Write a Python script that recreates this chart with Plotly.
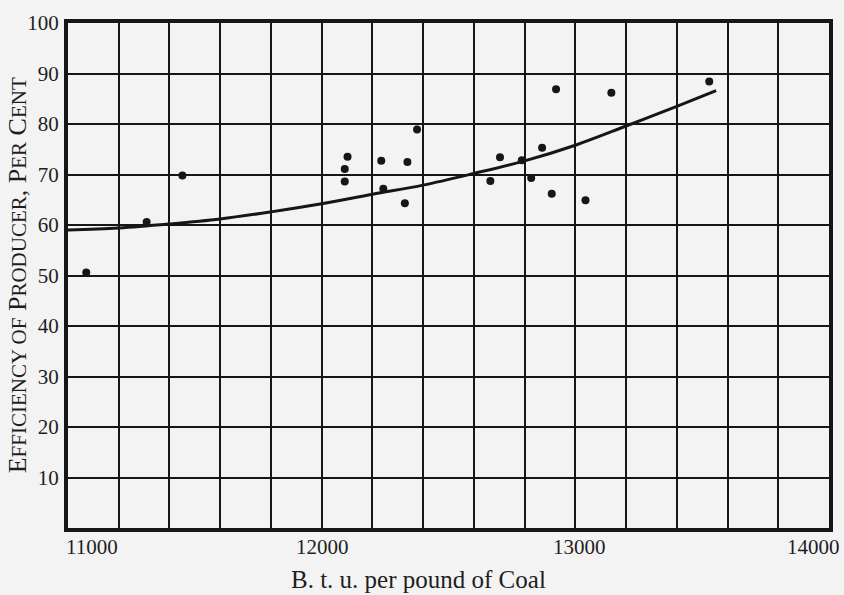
import plotly.graph_objects as go

# Observed data points (B.t.u. per pound of coal, efficiency %)
btu = [11072, 11310, 11451, 12091, 12091, 12102, 12235, 12243, 12328, 12338,
       12376, 12665, 12703, 12789, 12826, 12869, 12907, 12924, 13040, 13142, 13528]
eff = [50.6, 60.6, 69.8, 68.6, 71.1, 73.5, 72.7, 67.2, 64.3, 72.5,
       78.9, 68.7, 73.4, 72.8, 69.3, 75.3, 66.2, 86.9, 64.9, 86.2, 88.4]

# Drawn smooth curve
curve_btu = [11000, 11200, 11400, 11600, 11800, 12000, 12200, 12400, 12600,
             12800, 13000, 13200, 13400, 13555]
curve_eff = [59.0, 59.4, 60.2, 61.2, 62.6, 64.2, 66.1, 67.9, 70.2,
             72.7, 75.8, 79.6, 83.5, 86.6]

x_ticks = [11000, 12000, 13000, 14000]
x_tick_labels = ["11000", "12000", "13000", "14000"]
y_ticks = [10, 20, 30, 40, 50, 60, 70, 80, 90, 100]

FONT = "Liberation Serif"
INK = "#161616"
TEXT = "#1e1e1e"
BG = "#f3f3f3"

fig = go.Figure()
fig.add_trace(go.Scatter(x=curve_btu, y=curve_eff, mode="lines",
                         line=dict(color=INK, width=3, shape="spline"),
                         showlegend=False, hoverinfo="skip"))
fig.add_trace(go.Scatter(x=btu, y=eff, mode="markers",
                         marker=dict(color=INK, size=8),
                         showlegend=False))

fig.update_xaxes(range=[11000, 14000], tickvals=x_ticks,
                 showticklabels=False,
                 showgrid=True, gridcolor=INK, gridwidth=2,
                 minor=dict(dtick=200, showgrid=True, gridcolor=INK, gridwidth=2),
                 showline=True, linecolor=INK, linewidth=4, mirror=True,
                 ticks="", zeroline=False)
fig.update_yaxes(range=[0, 100], tickvals=y_ticks,
                 ticktext=[str(v) for v in y_ticks],
                 showgrid=True, gridcolor=INK, gridwidth=2,
                 showline=True, linecolor=INK, linewidth=4, mirror=True,
                 ticks="", ticklabelstandoff=1,
                 tickfont=dict(family=FONT, size=21, color=TEXT),
                 zeroline=False)

# x tick labels (first sits right of its line, last sits left of the frame edge)
anchors = ["left", "center", "center", "right"]
shifts = [-4, 1, 4, 13]
for v, lab, anc, sh in zip(x_ticks, x_tick_labels, anchors, shifts):
    fig.add_annotation(text=lab, xref="x", yref="paper", x=v, y=-0.037,
                       xanchor=anc, yanchor="middle", showarrow=False, xshift=sh,
                       font=dict(family=FONT, size=21, color=TEXT))

sc = "font-size:21px"
ytitle = (f"E<span style='{sc}'>FFICIENCY OF</span> P<span style='{sc}'>RODUCER</span>, "
          f"P<span style='{sc}'>ER</span> C<span style='{sc}'>ENT</span>")

fig.add_annotation(text=ytitle, xref="paper", yref="paper", x=-0.066, y=0.5,
                   textangle=-90, showarrow=False, xanchor="center", yanchor="middle",
                   font=dict(family=FONT, size=26, color=TEXT))
fig.add_annotation(text="B. t. u. per pound of Coal", xref="paper", yref="paper",
                   x=0.46, y=-0.101, showarrow=False, xanchor="center", yanchor="middle",
                   font=dict(family=FONT, size=25, color=TEXT))

fig.update_layout(width=844, height=595, margin=dict(l=68, r=11, t=18, b=67),
                  paper_bgcolor=BG, plot_bgcolor=BG)

fig.write_html("out.html")
